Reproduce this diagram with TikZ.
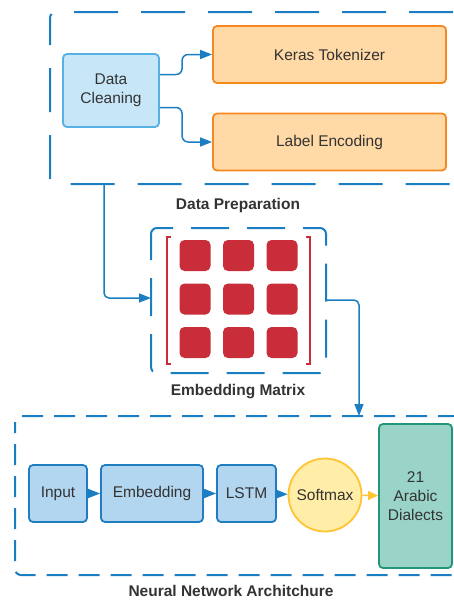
\documentclass[tikz,border=0pt]{standalone}
\usepackage{fontspec}
\setmainfont{Liberation Sans}
\usetikzlibrary{arrows.meta, positioning, calc}

\definecolor{txtgray}{HTML}{333333}
\definecolor{lineblue}{HTML}{1B7DC2}
\definecolor{cleanfill}{HTML}{C7E6F7}
\definecolor{cleanline}{HTML}{56B1E4}
\definecolor{orgfill}{HTML}{FFD9A6}
\definecolor{orgline}{HTML}{F5891F}
\definecolor{layfill}{HTML}{B3D6F0}
\definecolor{layline}{HTML}{1F7DC1}
\definecolor{matred}{HTML}{C92D39}
\definecolor{softfill}{HTML}{FFEDA8}
\definecolor{softline}{HTML}{FFC434}
\definecolor{dialfill}{HTML}{9AD4C8}
\definecolor{dialline}{HTML}{22967A}

\tikzset{
    basefont/.style={font=\fontsize{15.5}{19}\selectfont, text=txtgray},
    groupbox/.style={draw=lineblue, line width=2pt, rounded corners=6pt},
    grouplabel/.style={font=\bfseries\fontsize{15.5}{19}\selectfont, text=txtgray},
    cleanbox/.style={basefont, draw=cleanline, fill=cleanfill, line width=1.8pt,
        rounded corners=4pt, align=center},
    prepbox/.style={basefont, draw=orgline, fill=orgfill, line width=1.8pt,
        rounded corners=4pt, minimum width=233pt, minimum height=57pt},
    layerbox/.style={basefont, draw=layline, fill=layfill, line width=1.8pt,
        rounded corners=4pt, minimum height=57pt},
    flow/.style={draw=lineblue, line width=1.5pt,
        -{Triangle[length=12pt, width=9pt]}},
    cell/.style={fill=matred, rounded corners=5pt, minimum size=31pt, inner sep=0pt}
}

\begin{document}
\begin{tikzpicture}[x=1pt, y=-1pt]
    \useasboundingbox (0,0) rectangle (454,600);

    % group frames
    \draw[groupbox, dash pattern=on 44pt off 23pt, dash phase=17pt] (50,12) rectangle (480,184);
    \draw[groupbox, dash pattern=on 38pt off 18pt, dash phase=12pt] (151,228) rectangle (326,373);
    \draw[groupbox, dash pattern=on 21pt off 11pt, dash phase=10pt] (15,416) rectangle (480,575);
    \coordinate (prepout) at (104,184);
    \coordinate (nntop) at (359,416);

    \node[grouplabel] (preplabel) at (238,205) {Data Preparation};
    \node[grouplabel] (emblabel) at (238,392) {Embedding Matrix};
    \node[grouplabel] (nnlabel) at (231,591) {Neural Network Architchure};

    % data preparation
    \node[cleanbox, minimum width=96pt, minimum height=73pt] (clean) at (111,90.5) {Data\\Cleaning};
    \node[prepbox] (keras) at (329.5,54.5) {Keras Tokenizer};
    \node[prepbox] (label) at (329.5,142) {Label Encoding};

    \draw[flow, rounded corners=6pt] ([yshift=16pt]clean.east) -| ([xshift=-30pt]keras.west) -- (keras.west);
    \draw[flow, rounded corners=6pt] ([yshift=-17pt]clean.east) -| ([xshift=-30pt]label.west) -- (label.west);

    % embedding matrix
    \coordinate (embin) at (151,298);
    \coordinate (embout) at (326,300);
    \draw[matred, line width=1.5pt] (171,237) -- (167,237) -- (167,364) -- (171,364);
    \draw[matred, line width=1.5pt] (306,237) -- (310,237) -- (310,364) -- (306,364);
    \foreach \i in {0,1,2}
        \foreach \j in {0,1,2}
            \node[cell] (cell\i\j) at (195+43.5*\i, 255.5+43.5*\j) {};

    \draw[flow, rounded corners=5pt] (prepout) |- (embin);
    \draw[flow, rounded corners=5pt] (embout) -| (nntop);

    % neural network
    \node[layerbox, minimum width=58pt] (input) at (58,493.5) {Input};
    \node[layerbox, minimum width=102pt] (embed) at (152,493.5) {Embedding};
    \node[layerbox, minimum width=59pt] (lstm) at (246.5,493.5) {LSTM};
    \node[basefont, circle, draw=softline, fill=softfill, line width=1.8pt,
        minimum size=73pt, inner sep=0pt] (softmax) at (325,495) {Softmax};
    \node[basefont, draw=dialline, fill=dialfill, line width=1.8pt, rounded corners=4pt,
        minimum width=73pt, minimum height=144pt, align=center] (dialects) at (415.5,496) {21\\Arabic\\Dialects};

    \draw[flow] (input) -- (embed);
    \draw[flow] (embed) -- (lstm);
    \draw[flow] (lstm) -- (softmax);
    \draw[flow, draw=softline, -{Triangle[length=10pt, width=9pt]}] (softmax) -- (dialects);
\end{tikzpicture}
\end{document}
